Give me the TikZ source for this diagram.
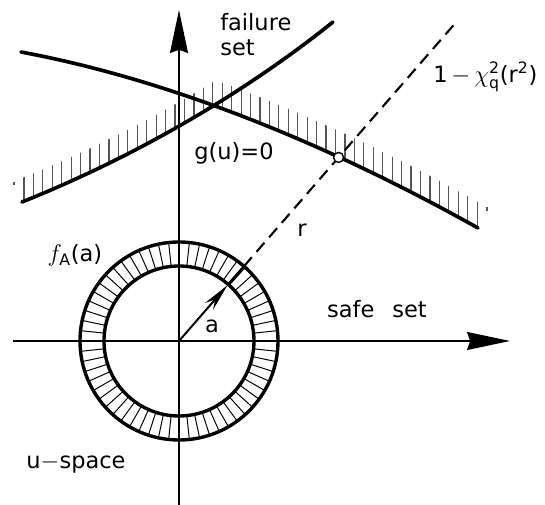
\documentclass[tikz,border=0pt]{standalone}
\usepackage{amsmath}
\usepackage{fontspec}
\setmainfont{DejaVu Sans}
\usetikzlibrary{arrows.meta}
\definecolor{hachure}{HTML}{555555}

\begin{document}
\begin{tikzpicture}[
  font=\fontsize{16}{17.8}\selectfont,
  axe/.style={line width=0.95pt, -{Stealth[length=1.075cm, width=0.45cm, inset=0.08cm]}},
  courbe/.style={line width=2.6pt, line cap=round},
  cercle/.style={line width=2.4pt},
  hach/.style={line width=0.85pt, draw=hachure},
  hachr/.style={line width=0.7pt},
  rayon/.style={line width=1.5pt, dash pattern=on 0.3cm off 0.18cm},
  fleche/.style={line width=1.4pt, -{Stealth[length=0.7cm, width=0.26cm]}},
  marque/.style={circle, draw, line width=1pt, fill=white, inner sep=0pt,
                 minimum size=0.25cm},
  lab/.style={inner sep=0pt},
]
\useasboundingbox (-4.475,-4.1) rectangle (9.15,8.525);
% ---- points fixes
\coordinate (O) at (0,0);
\coordinate (xg) at (-4.15,0);
\coordinate (xd) at (8.275,0);
\coordinate (yb) at (0,-4.1);
\coordinate (yh) at (0,8.275);
\coordinate (ri) at (49:1.85);
\coordinate (rc) at (49:1.875);
\coordinate (ro) at (49:2.475);
\coordinate (rf) at (49:10.55);
% ---- hachures du domaine de défaillance
\begin{scope}
\clip (-5,0) rectangle (0.85,9);
\clip (-3.925,3.475) .. controls (-1.425,4.475) and (1.35,5.975) .. (3.85,7.975)
  -- (3.85,8.575) .. controls (1.35,6.575) and (-1.425,5.075) .. (-3.925,4.075) -- cycle;
\foreach \i in {0,...,48}
  \draw[hach] ({-3.875+0.236*\i},2) -- ++(0,7);
\end{scope}
\begin{scope}
\clip (0.85,0) rectangle (8,9);
\clip (-3.95,7.225) .. controls (-0.2,6.525) and (3.725,4.925) .. (7.475,2.825)
  -- (7.475,3.475) .. controls (3.725,5.575) and (-0.2,7.175) .. (-3.95,7.875) -- cycle;
\foreach \i in {0,...,48}
  \draw[hach] ({-3.875+0.236*\i},2) -- ++(0,7);
\end{scope}
\draw[hach] (-4.125,3.9) -- ++(0,0.08);
\draw[hach] (7.7,3.26) -- ++(0,0.08);
% ---- les deux états limites
\draw[courbe] (-3.925,3.475) .. controls (-1.425,4.475) and (1.35,5.975) .. (3.85,7.975);
\draw[courbe] (-3.95,7.225) .. controls (-0.2,6.525) and (3.725,4.925) .. (7.475,2.825);
% ---- anneau de densité
\foreach \t in {0,6,...,354}
  \draw[hachr] (\t:1.875) -- (\t:2.475);
\draw[cercle] (O) circle (1.875);
\draw[cercle] (O) circle (2.475);
% ---- axes
\draw[axe] (xg) -- (xd);
\draw[axe] (yb) -- (yh);
% ---- rayon
\draw[fleche] (O) -- (ri);
\draw[line width=1.7pt] (rc) -- (ro);
\draw[rayon] (ro) -- (rf);
\node[marque] (p) at (49:6.08) {};
% ---- textes
\node[lab, anchor=north west, align=left] (echec) at (1.025,8.2) {failure\\set};
\node[lab] (g) at (1.375,4.7) {g(u)=0};
\node[lab, anchor=west] (chi) at (6.35,6.6)
  {1\,$-\,\chi^{\text{2}}_{\text{q}}$(r$^{\text{2}}$)};
\node[lab] (r) at (3.075,2.775) {r};
\node[lab] (fa) at (-2.6,2.14) {$f_{\text{A}}$(a)};
\node[lab] (a) at (0.825,0.375) {a};
\node[lab, anchor=base] (sur) at (4.95,0.575) {safe\hspace{0.45cm}set};
\node[lab, anchor=base] (us) at (-2.575,-3.2) {u$-$space};
\end{tikzpicture}
\end{document}
